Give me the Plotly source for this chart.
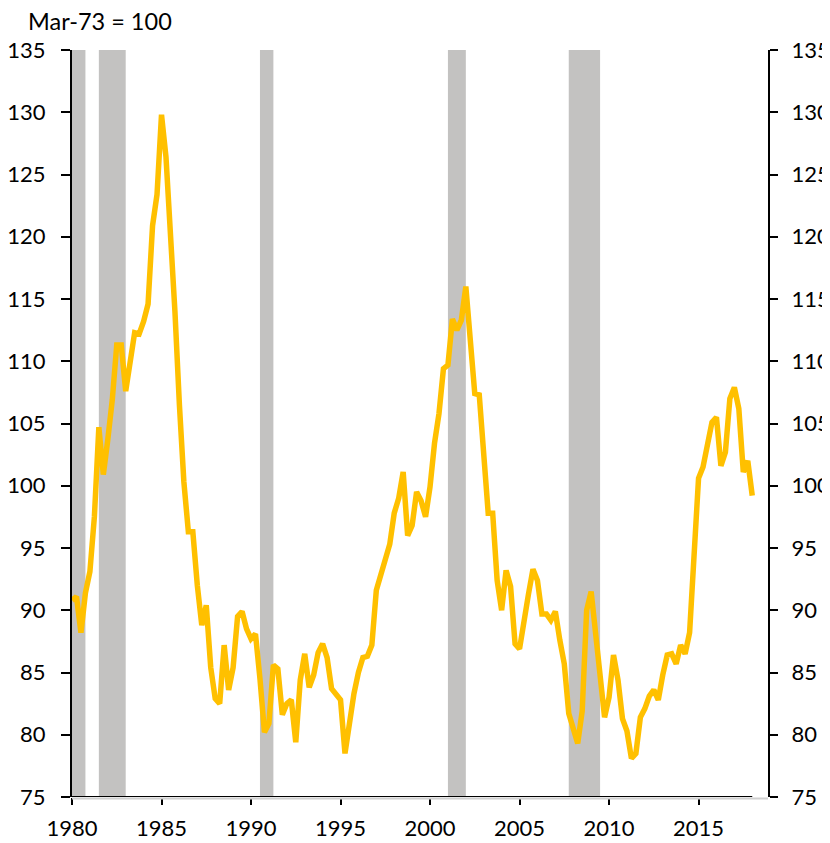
import plotly.graph_objects as go

# Quarterly index values, Mar-73 = 100, 1980Q1 .. 2018Q1
start_year = 1980
values = [
    90.8, 91.1, 88.2, 91.4, 93.1, 97.5, 104.7, 100.9, 103.7, 106.9,
    111.3, 111.3, 107.6, 109.7, 112.3, 112.2, 113.2, 114.6, 120.9, 123.4,
    129.8, 126.4, 121.0, 114.0, 106.5, 100.3, 96.3, 96.3, 92.0, 88.8,
    90.4, 85.4, 82.9, 82.5, 87.2, 83.6, 85.4, 89.5, 89.9, 88.5,
    87.7, 88.1, 84.5, 80.2, 80.9, 85.6, 85.3, 81.6, 82.5, 82.8,
    79.4, 84.4, 86.5, 83.8, 84.8, 86.6, 87.3, 86.2, 83.7, 83.2,
    82.8, 78.5, 81.3, 83.3, 85.0, 86.2, 86.3, 87.2, 91.6, 92.8,
    94.1, 95.3, 97.8, 99.0, 101.1, 96.0, 96.8, 99.5, 98.8, 97.5,
    99.9, 103.4, 105.8, 109.4, 109.7, 113.4, 112.5, 113.3, 116.0, 111.8,
    107.4, 107.3, 102.5, 97.8, 97.8, 92.4, 90.0, 93.2, 91.9, 87.3,
    86.9, 89.5, 91.3, 93.3, 92.4, 89.7, 89.7, 89.2, 89.9, 87.6,
    85.7, 81.7, 80.6, 79.3, 81.9, 90.0, 91.5, 88.4, 84.8, 81.4,
    83.0, 86.4, 84.4, 81.3, 80.3, 78.1, 78.5, 81.4, 82.1, 83.1,
    83.6, 82.8, 84.8, 86.4, 86.5, 85.7, 87.2, 86.5, 88.2, 94.0,
    100.6, 101.5, 103.5, 105.1, 105.5, 101.6, 102.7, 107.0, 107.9, 106.2,
    101.1, 102.0, 99.2,
]
quarters = [start_year + i / 4 for i in range(len(values))]

# Recession periods (decimal years)
rec_start = [1980.0, 1981.5, 1990.5, 2001.0, 2007.75]
rec_end = [1980.75, 1983.0, 1991.25, 2002.0, 2009.5]

x_ticks = [1980, 1985, 1990, 1995, 2000, 2005, 2010, 2015]
y_ticks = [75, 80, 85, 90, 95, 100, 105, 110, 115, 120, 125, 130, 135]
y_title = "Mar-73 = 100"

FONT = "Lato"
FS = 22
X_RANGE = [1980, 2018.88]
Y_RANGE = [75, 135]

fig = go.Figure()
fig.add_trace(go.Scatter(
    x=quarters, y=values, mode="lines",
    line=dict(color="#FFC000", width=5.5),
    showlegend=False, hoverinfo="skip",
))
# invisible trace to anchor right-hand axis
fig.add_trace(go.Scatter(
    x=quarters, y=values, mode="lines", yaxis="y2",
    line=dict(color="rgba(0,0,0,0)", width=0),
    showlegend=False, hoverinfo="skip",
))

shapes = []
for s, e in zip(rec_start, rec_end):
    shapes.append(dict(type="rect", xref="x", yref="paper", x0=s, x1=e, y0=0, y1=1,
                       fillcolor="#C3C2C1", line=dict(width=0), layer="below"))
# light baseline across the whole plot bottom
shapes.append(dict(type="line", xref="paper", yref="paper", x0=0, x1=1, y0=-0.002, y1=-0.002,
                   line=dict(color="#D0D0D0", width=2), layer="above"))
# black category axis line up to the last data point
shapes.append(dict(type="line", xref="x", yref="y", x0=quarters[0], x1=quarters[-1], y0=Y_RANGE[0], y1=Y_RANGE[0],
                   line=dict(color="black", width=2.2), layer="above"))

fig.update_layout(
    width=822, height=835,
    margin=dict(l=64, r=62, t=42, b=46, autoexpand=False),
    paper_bgcolor="white", plot_bgcolor="white",
    font=dict(family=FONT, size=FS, color="black"),
    shapes=shapes,
    xaxis=dict(
        range=X_RANGE, tickmode="array", tickvals=x_ticks,
        ticktext=[str(t) for t in x_ticks], automargin=False,
        showgrid=False, zeroline=False, showline=False,
        ticks="outside", ticklen=7, tickwidth=2, tickcolor="black",
        ticklabelstandoff=5,
    ),
    yaxis=dict(
        range=Y_RANGE, tickmode="array", tickvals=y_ticks, automargin=False,
        showgrid=False, zeroline=False, showline=True, linecolor="black", linewidth=2,
        ticks="outside", ticklen=9, tickwidth=2, tickcolor="black",
        ticklabelstandoff=11,
    ),
    yaxis2=dict(
        range=Y_RANGE, tickmode="array", tickvals=y_ticks, overlaying="y", side="right",
        automargin=False,
        showgrid=False, zeroline=False, showline=True, linecolor="black", linewidth=2,
        ticks="outside", ticklen=8, tickwidth=2, tickcolor="black",
        ticklabelstandoff=9,
    ),
    annotations=[dict(
        text=y_title, xref="paper", yref="paper",
        x=(26 - 72) / 696, y=1 + (50 - 21) / 747,
        xanchor="left", yanchor="middle", showarrow=False,
        font=dict(family=FONT, size=23.5, color="black"),
    )],
)

fig.write_html("out.html")
